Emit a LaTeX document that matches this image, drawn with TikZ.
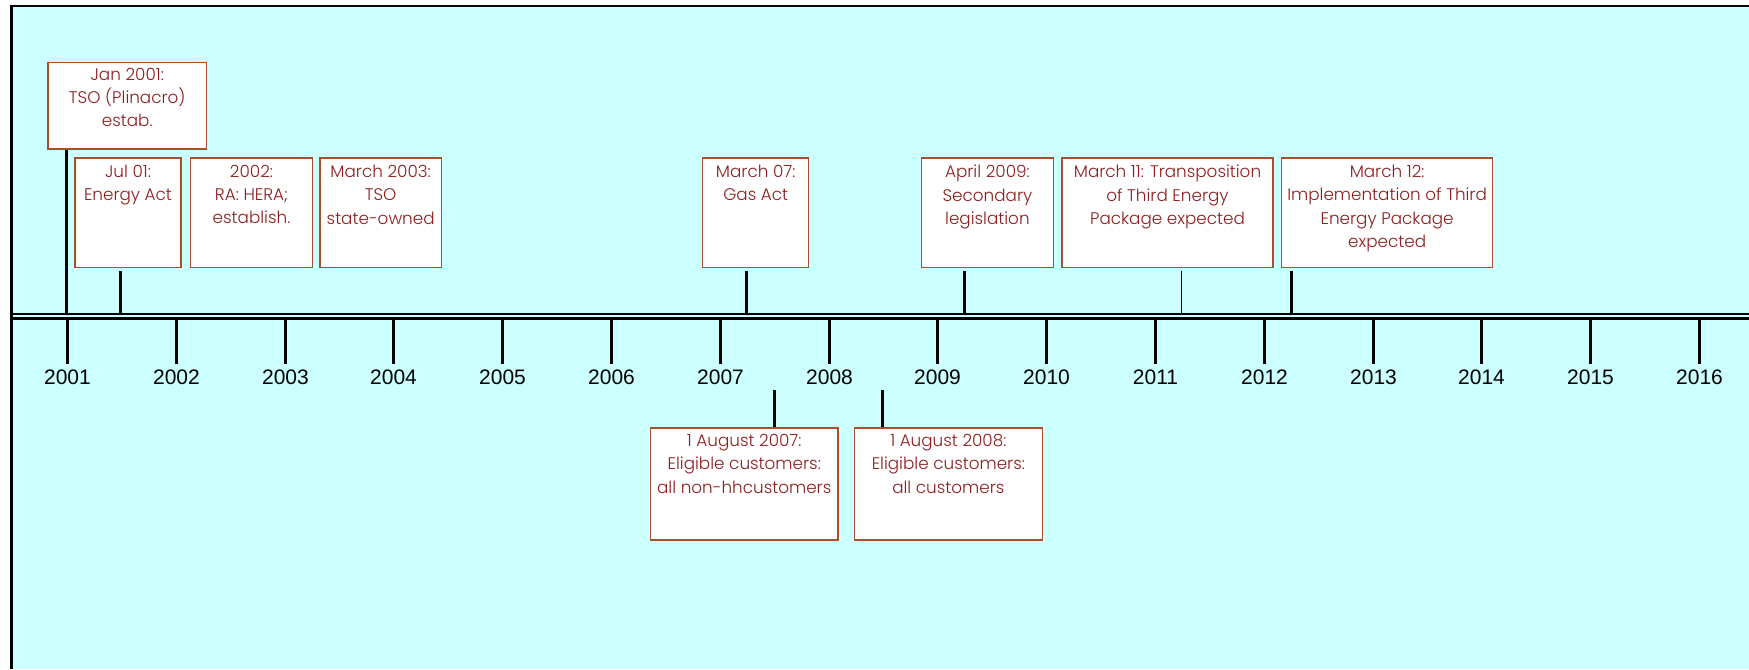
\documentclass[tikz,border=0pt]{standalone}
\usepackage{fontspec}
\setmainfont{Poppins}[UprightFont={* Light}]
\newfontfamily\yearfont{Liberation Sans}
\definecolor{bgcyan}{HTML}{CCFFFF}
\definecolor{evborder}{HTML}{A9502A}
\definecolor{evtextc}{HTML}{8E1E1E}
\begin{document}
\begin{tikzpicture}[x=0.5pt,y=-0.5pt,
  evbox/.style={draw=evborder, line width=0.75pt, fill=white, rectangle, inner sep=0pt},
  boxsize/.style 2 args={minimum width=#1*0.5pt, minimum height=#2*0.5pt},
  evtext/.style={text=evtextc, font=\fontsize{8.4}{11.6}\selectfont, align=center, inner sep=0pt, anchor=north},
  stem/.style={line width=1.5pt, black},
  thinstem/.style={line width=0.8pt, black},
  tickline/.style={line width=1.5pt, black},
  yearlbl/.style={font=\yearfont\fontsize{10.5}{12}\selectfont, inner sep=0pt, anchor=center},
  frame/.style={line width=1.25pt, black}]
\path[use as bounding box] (0,0) rectangle (1749,669);
\fill[bgcyan] (11.3,6) rectangle (1749,669);
\draw[frame] (11.3,669) -- (11.3,6) -- (1749,6);

% timeline
\coordinate (tlL) at (11.3,314.2);
\coordinate (tlR) at (1749,314.2);
\coordinate (tlL2) at (11.3,318.3);
\coordinate (tlR2) at (1749,318.3);
\draw[line width=0.85pt] (tlL) -- (tlR);
\draw[line width=1.65pt] (tlL2) -- (tlR2);

\foreach \i in {0,...,15} {
  \pgfmathsetmacro\xx{round(66.9+\i*108.8)+0.5}
  \pgfmathtruncatemacro\yr{2001+\i}
  \coordinate (tk\i) at (\xx,320);
  \coordinate (tb\i) at (\xx,364);
  \draw[tickline] (tk\i) -- (tb\i);
  \node[yearlbl] (yr\i) at (\xx,377.5) {\yr};
}

% boxes above
\node[evbox, boxsize={158.5}{86.7}] (b1) at (127.25,105.65) {};
\node[evbox, boxsize={106}{109.5}] (b2) at (128,212.75) {};
\node[evbox, boxsize={121.6}{109.5}] (b3) at (251.5,212.75) {};
\node[evbox, boxsize={121.3}{109.5}] (b4) at (380.65,212.75) {};
\node[evbox, boxsize={106}{109.5}] (b5) at (755.7,212.75) {};
\node[evbox, boxsize={132.2}{109.5}] (b6) at (987.4,212.75) {};
\node[evbox, boxsize={211}{109.5}] (b7) at (1167.5,212.75) {};
\node[evbox, boxsize={211.2}{109.5}] (b8) at (1387.1,212.75) {};
% boxes below
\node[evbox, boxsize={187.5}{112}] (b9) at (744.25,484) {};
\node[evbox, boxsize={187.9}{112}] (b10) at (948.35,484) {};

\node[evtext] (t1) at ([yshift=-3.2pt]b1.north) {Jan 2001:\\TSO (Plinacro)\\estab.};
\node[evtext] (t2) at ([yshift=-3.8pt]b2.north) {Jul 01:\\Energy Act};
\node[evtext] (t3) at ([yshift=-3.8pt]b3.north) {2002:\\RA: HERA;\\establish.};
\node[evtext] (t4) at ([yshift=-3.8pt]b4.north) {March 2003:\\TSO\\state-owned};
\node[evtext] (t5) at ([yshift=-3.8pt]b5.north) {March 07:\\Gas Act};
\node[evtext] (t6) at ([yshift=-3.8pt]b6.north) {April 2009:\\Secondary\\legislation};
\node[evtext] (t7) at ([yshift=-3.8pt]b7.north) {March 11: Transposition\\of Third Energy\\Package expected};
\node[evtext] (t8) at ([yshift=-3.8pt]b8.north) {March 12:\\Implementation of Third\\Energy Package\\expected};
\node[evtext] (t9) at ([yshift=-3.4pt]b9.north) {1 August 2007:\\Eligible customers:\\all non-hhcustomers};
\node[evtext] (t10) at ([yshift=-3.4pt]b10.north) {1 August 2008:\\Eligible customers:\\all customers};

% stems
\coordinate (s1) at (66.5,313.35);
\coordinate (s2) at (120.5,313.35);
\coordinate (s5) at (746.5,313.35);
\coordinate (s6) at (964.5,313.35);
\coordinate (s7) at (1181.5,313.35);
\coordinate (s8) at (1291.5,313.35);
\coordinate (s9) at (774.5,390);
\coordinate (s10) at (882.5,390);
\draw[stem] (b1.south -| s1) -- (s1);
\draw[stem, shorten <=1.4pt] (b2.south -| s2) -- (s2);
\draw[stem, shorten <=1.4pt] (b5.south -| s5) -- (s5);
\draw[stem, shorten <=1.4pt] (b6.south -| s6) -- (s6);
\draw[thinstem, shorten <=1.4pt] (b7.south -| s7) -- (s7);
\draw[stem, shorten <=1.4pt] (b8.south -| s8) -- (s8);
\draw[stem] (s9) -- (b9.north -| s9);
\draw[stem] (s10) -- (b10.north -| s10);
\end{tikzpicture}
\end{document}
